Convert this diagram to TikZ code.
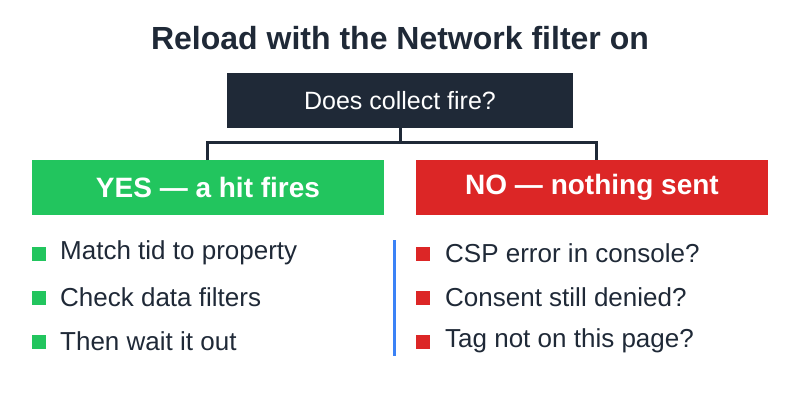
\documentclass[tikz,border=0pt]{standalone}
\usepackage{fontspec}
\setmainfont{Liberation Sans}
\usetikzlibrary{positioning}
\definecolor{navy}{HTML}{1F2937}
\definecolor{yesgreen}{HTML}{22C55E}
\definecolor{nored}{HTML}{DC2626}
\definecolor{divblue}{HTML}{3B82F6}
\tikzset{
  box/.style={minimum height=55pt, inner sep=0pt, font=\fontsize{28}{32}\selectfont\bfseries, text=white},
  item/.style={anchor=west, inner sep=0pt, text=navy, font=\fontsize{26}{30}\selectfont},
  bullet/.style={minimum size=14pt, inner sep=0pt},
  link/.style={draw=navy, line width=3pt}
}
\begin{document}
\begin{tikzpicture}[x=1pt,y=-1pt]
\useasboundingbox (0,0) rectangle (800,400);

% title and question
\node[text=navy, font=\fontsize{32}{36}\selectfont\bfseries] (title) at (400,38) {Reload with the Network filter on};
\node[box, fill=navy, minimum width=346pt, font=\fontsize{25}{28}\selectfont] (ask) at (400,100.5) {Does collect fire?};

% answer boxes
\node[box, fill=yesgreen, minimum width=352pt] (yes) at (208,187.5) {YES — a hit fires};
\node[box, fill=nored, minimum width=352pt] (no) at (592,187.5) {NO — nothing sent};

% branches
\coordinate (fork) at (400,142);
\draw[link] (ask.south) -- (fork);
\draw[link] (fork) -| ([xshift=-1pt]yes.north);
\draw[link] (fork) -| ([xshift=4pt]no.north);

% divider
\coordinate (divtop) at (394,240);
\coordinate (divbot) at (394,356);
\draw[divblue, line width=3pt] (divtop) -- (divbot);

% lists
\foreach \txt [count=\i] in {Match tid to property, Check data filters, Then wait it out} {
  \node[bullet, fill=yesgreen] (yb\i) at (39,{210+44*\i}) {};
  \node[item] (yt\i) at (60,{209+44*\i}) {\txt};
}
\foreach \txt [count=\i] in {CSP error in console?, Consent still denied?, Tag not on this page?} {
  \node[bullet, fill=nored] (nb\i) at (423,{210+44*\i}) {};
  \node[item] (nt\i) at (445,{209+44*\i}) {\txt};
}
\end{tikzpicture}
\end{document}
